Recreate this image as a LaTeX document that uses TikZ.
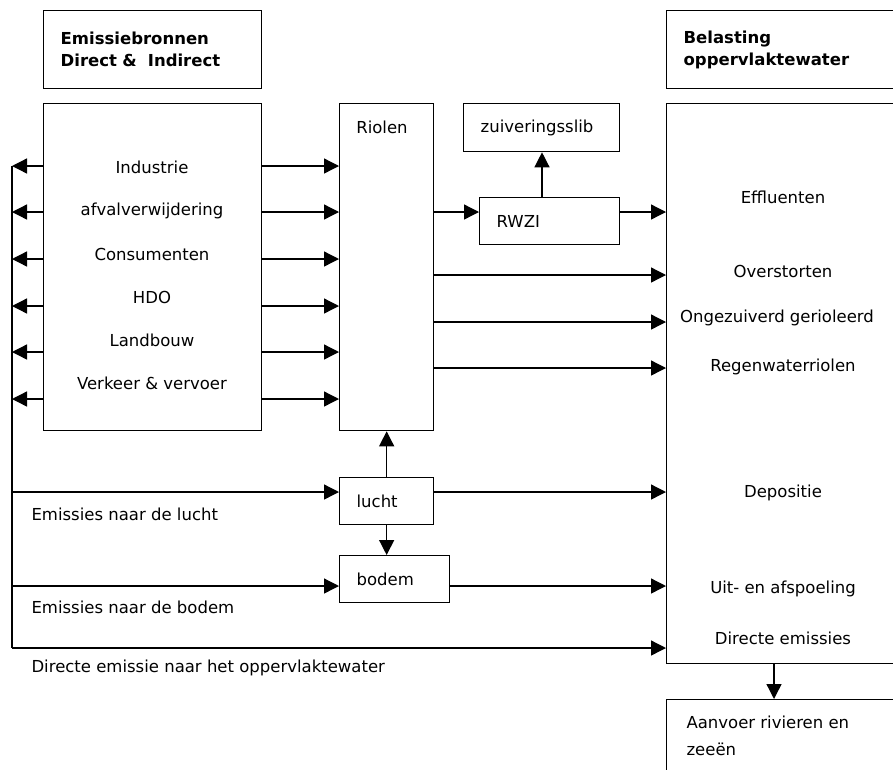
\documentclass[tikz,border=0pt]{standalone}
\usepackage{fontspec}
\setmainfont{DejaVu Sans}
\usetikzlibrary{arrows.meta,positioning}

\begin{document}
\begin{tikzpicture}[
  x=1pt, y=-1pt,
  >={Triangle[length=15pt,width=15pt]},
  font=\fontsize{16.5}{24}\selectfont,
  blok/.style={
    draw,
    line width=1.3pt,
    inner sep=0pt,
    anchor=north west
  },
  vak/.style={
    blok,
    inner xsep=17pt,
    align=left
  },
  kop/.style={
    vak,
    minimum height=78pt,
    font=\fontsize{16.5}{22}\selectfont\bfseries
  },
  pijl/.style={
    ->,
    line width=1.3pt
  },
  lijn/.style={
    line width=1.3pt
  }
]

\clip (0,0) rectangle (893,769);

% Headings
\node[kop, text width=184pt] (kopbron) at (43,10)
  {Emissiebronnen\\Direct \& \ Indirect};
\node[kop, text width=200pt] (kopbelast) at (666,10)
  {Belasting\\oppervlaktewater};

% Boxes
\node[blok, minimum width=218pt, minimum height=327pt] (bron) at (43,103) {};
\node[blok, minimum width=94pt, minimum height=327pt] (riolen) at (339,103) {};
\node[vak, minimum height=48pt, text width=122pt] (slib) at (463,103)
  {zuiveringsslib};
\node[vak, minimum height=47pt, text width=106pt] (rwzi) at (479,197)
  {RWZI};
\node[vak, minimum height=47pt, text width=60pt] (lucht) at (339,477)
  {lucht};
\node[vak, minimum height=47pt, text width=76pt] (bodem) at (339,555)
  {bodem};
\node[blok, minimum width=234pt, minimum height=560pt] (belast) at (666,103) {};
\node[blok, minimum width=234pt, minimum height=120pt] (aanvoer) at (666,699) {};

% Sources
\node (industrie) at (152,167) {Industrie};
\node (afval) at (152,211) {afvalverwijdering};
\node (consument) at (152,254) {Consumenten};
\node (hdo) at (152,297) {HDO};
\node (landbouw) at (152,340) {Landbouw};
\node (verkeer) at (152,383) {Verkeer \& vervoer};

\node (riooltxt) at (382,127) {Riolen};

% Loads
\node (effluent) at (783,197) {Effluenten};
\node (overstort) at (783,271) {Overstorten};
\node (ongezuiverd) at (777,318) {Ongezuiverd gerioleerd};
\node (regenwater) at (783,367) {Regenwaterriolen};
\node (depositie) at (783,493) {Depositie};
\node (afspoeling) at (783,589) {Uit- en afspoeling};
\node (direct) at (783,638) {Directe emissies};

\node[align=left, anchor=west, font=\fontsize{16.5}{27}\selectfont] (aanvoertxt)
  at (683,736) {Aanvoer rivieren en\\zeeën};

% Emission routes
\node[anchor=west] (naarlucht) at (28,514) {Emissies naar de lucht};
\node[anchor=west] (naarbodem) at (28,607) {Emissies naar de bodem};
\node[anchor=west] (naarwater) at (28,668)
  {Directe emissie naar het oppervlaktewater};

\coordinate (top) at (12,166);
\coordinate (hoek) at (12,648);

\draw[lijn] (top) -- (hoek);

% Sources to the left line
\draw[pijl] (bron.west |- 0,166) -- (top);
\draw[pijl] (bron.west |- 0,212) -- (top |- 0,212);
\draw[pijl] (bron.west |- 0,259) -- (top |- 0,259);
\draw[pijl] (bron.west |- 0,306) -- (top |- 0,306);
\draw[pijl] (bron.west |- 0,352) -- (top |- 0,352);
\draw[pijl] (bron.west |- 0,399) -- (top |- 0,399);

% Sources to sewers
\draw[pijl] (bron.east |- 0,166) -- (riolen.west |- 0,166);
\draw[pijl] (bron.east |- 0,212) -- (riolen.west |- 0,212);
\draw[pijl] (bron.east |- 0,259) -- (riolen.west |- 0,259);
\draw[pijl] (bron.east |- 0,306) -- (riolen.west |- 0,306);
\draw[pijl] (bron.east |- 0,352) -- (riolen.west |- 0,352);
\draw[pijl] (bron.east |- 0,399) -- (riolen.west |- 0,399);

% Sewers
\draw[pijl] (riolen.east |- 0,212) -- (rwzi.west |- 0,212);
\draw[pijl] (rwzi.north -| 542,0) -- (slib.south -| 542,0);
\draw[pijl] (rwzi.east |- 0,212) -- (belast.west |- 0,212);
\draw[pijl] (riolen.east |- 0,275) -- (belast.west |- 0,275);
\draw[pijl] (riolen.east |- 0,322) -- (belast.west |- 0,322);
\draw[pijl] (riolen.east |- 0,368) -- (belast.west |- 0,368);

% Air and soil
\draw[pijl] (hoek |- 0,492) -- (lucht.west |- 0,492);
\draw[pijl] (hoek |- 0,586) -- (bodem.west |- 0,586);
\draw[pijl] (lucht.north) -- (riolen.south);
\draw[pijl] (lucht.south) -- (lucht.south |- bodem.north);
\draw[pijl] (lucht.east |- 0,492) -- (belast.west |- 0,492);
\draw[pijl] (bodem.east |- 0,586) -- (belast.west |- 0,586);
\draw[pijl] (hoek) -- (belast.west |- hoek);

\draw[pijl] (belast.south -| 774,0) -- (aanvoer.north -| 774,0);

\end{tikzpicture}
\end{document}
